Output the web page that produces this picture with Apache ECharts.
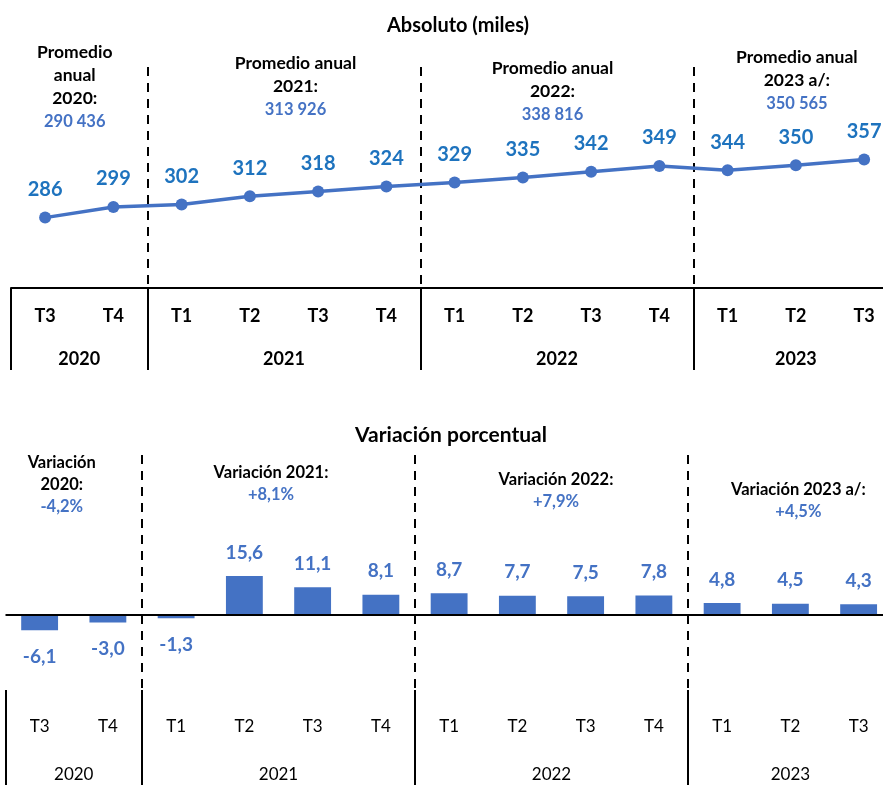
<!DOCTYPE html>
<html>
<head>
<meta charset="utf-8">
<script src="https://cdn.jsdelivr.net/npm/echarts@6/dist/echarts.min.js"></script>
<style>
html,body{margin:0;padding:0;background:#fff;}
#c{width:883px;height:785px;}
</style>
</head>
<body>
<div id="c"></div>
<script>
// ---- data ----
const quarters = ['T3','T4','T1','T2','T3','T4','T1','T2','T3','T4','T1','T2','T3'];
const years = ['2020','2021','2022','2023'];
const yearSpans = [2,4,4,3];
const absoluto = [286,299,302,312,318,324,329,335,342,349,344,350,357];
const variacion = [-6.1,-3.0,-1.3,15.6,11.1,8.1,8.7,7.7,7.5,7.8,4.8,4.5,4.3];
const promedioTitulos = ['Promedio\nanual\n2020:','Promedio anual\n2021:','Promedio anual\n2022:','Promedio anual\n2023 a/:'];
const promedioValores = ['290 436','313 926','338 816','350 565'];
const variacionTitulos = ['Variación\n2020:','Variación 2021:','Variación 2022:','Variación 2023 a/:'];
const variacionValores = ['-4,2%','+8,1%','+7,9%','+4,5%'];

// ---- derived ----
const yearStarts = [];
let acc = 0;
yearSpans.forEach(s => { yearStarts.push(acc); acc += s; });
const yearCenters = yearStarts.map((s, i) => s + yearSpans[i] / 2);
const boundaries = yearStarts.slice();
const innerBoundaries = yearStarts.slice(1);
const total = quarters.length;

const FONT = 'Lato';
const BLUE = '#4472C4';
const LBLUE = '#1E73BE';

const fmt = v => v.toFixed(1).replace('.', ',');

const chart = echarts.init(document.getElementById('c'), null, {renderer: 'canvas'});

function catAxis(grid, margin, weight, size, tickLen) {
  return {
    type: 'category', gridIndex: grid, data: quarters, boundaryGap: true,
    position: 'bottom',
    axisLine: {show: grid === 0, onZero: false, lineStyle: {color: '#000', width: 2}},
    axisTick: {show: true, interval: (i) => boundaries.includes(i), length: tickLen, inside: false,
      lineStyle: {color: '#000', width: 2}},
    splitLine: {show: true, interval: (i) => innerBoundaries.includes(i),
      lineStyle: {color: '#000', width: 2, type: [9, 7]}},
    axisLabel: {interval: 0, margin: margin, color: '#000', fontFamily: FONT, fontWeight: weight, fontSize: size}
  };
}
function yearAxis(grid, margin, weight, size) {
  return {
    type: 'value', gridIndex: grid, min: 0, max: total, position: 'bottom', offset: 0,
    axisLine: {show: false}, axisTick: {show: false}, splitLine: {show: false},
    axisLabel: {customValues: yearCenters, margin: margin, color: '#000', fontFamily: FONT,
      fontWeight: weight, fontSize: size,
      formatter: (v) => { const i = yearCenters.indexOf(v); return i >= 0 ? years[i] : ''; }}
  };
}

const option = {
  animation: false,
  backgroundColor: '#fff',
  textStyle: {fontFamily: FONT},
  title: [
    {text: 'Absoluto (miles)', left: 453, top: 11, textAlign: 'center',
      textStyle: {fontFamily: FONT, fontWeight: 'bold', fontSize: 20, color: '#000'}},
    {text: 'Variación porcentual', left: 446, top: 420, textAlign: 'center',
      textStyle: {fontFamily: FONT, fontWeight: 'bold', fontSize: 21, color: '#000'}}
  ],
  grid: [
    {left: 11, width: 887.25, top: 67, height: 221, outerBoundsMode: 'none', containLabel: false},
    {left: 5.5, width: 887.25, top: 455, height: 235, outerBoundsMode: 'none', containLabel: false}
  ],
  xAxis: [
    catAxis(0, 19, 'bold', 18, 82),
    yearAxis(0, 62, 'bold', 18),
    catAxis(1, 28, 'normal', 17, 95),
    yearAxis(1, 76, 'normal', 17)
  ],
  yAxis: [
    {type: 'value', gridIndex: 0, min: 200, max: 470, show: false},
    {type: 'value', gridIndex: 1, min: -30, max: 64, show: false}
  ],
  series: [
    {
      type: 'line', xAxisIndex: 0, yAxisIndex: 0, data: absoluto,
      symbol: 'circle', symbolSize: 12,
      lineStyle: {color: BLUE, width: 3.5}, itemStyle: {color: BLUE},
      label: {show: true, position: 'top', distance: 12, color: LBLUE,
        fontFamily: FONT, fontWeight: 'bold', fontSize: 20}
    },
    {
      type: 'bar', xAxisIndex: 2, yAxisIndex: 1, barWidth: '54%',
      data: variacion.map(v => ({value: v, label: {position: v < 0 ? 'bottom' : 'top', distance: v < 0 ? 17 : 14}})),
      itemStyle: {color: BLUE},
      label: {show: true, color: BLUE, fontFamily: FONT, fontWeight: 'bold', fontSize: 19,
        formatter: p => fmt(p.value)},
      markLine: {silent: true, symbol: 'none', label: {show: false},
        lineStyle: {color: '#000', width: 2, type: 'solid'},
        data: [{yAxis: 0}]}
    }
  ]
};
chart.setOption(option);

// annotations placed at each year's centre via the year axis scale
const topOffsets = [-4.5, 11.5, -4.5, 1];
const topY = [41, 52, 57, 46];
const botOffsets = [-12, -7.5, 4.5, 8];
const botY = [452, 462, 469, 479];

const graphics = [];
yearCenters.forEach((c, i) => {
  const xt = chart.convertToPixel({xAxisIndex: 1}, c);
  graphics.push({
    type: 'text', x: xt + topOffsets[i], y: topY[i],
    style: {
      text: promedioTitulos[i].split('\n').map(l => '{t|' + l + '}').join('\n') + '\n{n|' + promedioValores[i] + '}',
      align: 'center', verticalAlign: 'top',
      rich: {
        t: {fontFamily: FONT, fontWeight: 'bold', fontSize: 17.5, fill: '#000', lineHeight: 23},
        n: {fontFamily: FONT, fontWeight: 'bold', fontSize: 16.5, fill: BLUE, lineHeight: 23}
      }
    }
  });
  const xb = chart.convertToPixel({xAxisIndex: 3}, c);
  graphics.push({
    type: 'text', x: xb + botOffsets[i], y: botY[i],
    style: {
      text: variacionTitulos[i].split('\n').map(l => '{t|' + l + '}').join('\n') + '\n{n|' + variacionValores[i] + '}',
      align: 'center', verticalAlign: 'top',
      rich: {
        t: {fontFamily: FONT, fontWeight: 'bold', fontSize: 16.5, fill: '#000', lineHeight: 22},
        n: {fontFamily: FONT, fontWeight: 'bold', fontSize: 16.5, fill: BLUE, lineHeight: 22}
      }
    }
  });
});
chart.setOption({graphic: graphics});
</script>
</body>
</html>
